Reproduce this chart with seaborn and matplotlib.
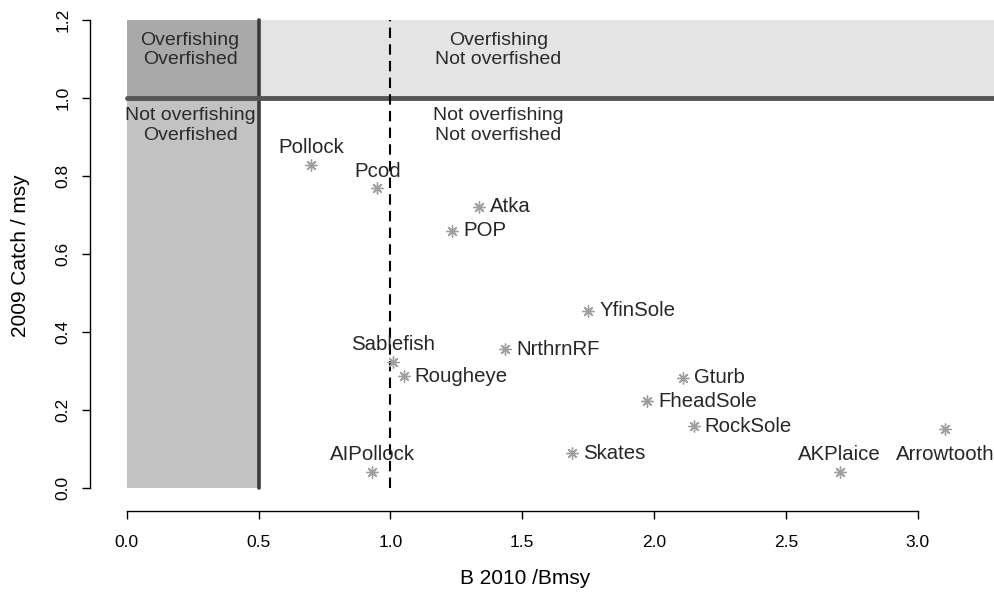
import matplotlib
matplotlib.use('Agg')
import matplotlib.pyplot as plt
import seaborn as sns
import pandas as pd

# Stock status data
stocks = ['Pollock', 'Pcod', 'Atka', 'POP', 'YfinSole', 'Sablefish', 'NrthrnRF',
          'Rougheye', 'Gturb', 'FheadSole', 'RockSole', 'Skates', 'AIPollock',
          'AKPlaice', 'Arrowtooth']
b_ratio = [0.70, 0.95, 1.335, 1.235, 1.75, 1.01, 1.435,
           1.05, 2.11, 1.975, 2.15, 1.69, 0.93, 2.705, 3.105]
catch_ratio = [0.828, 0.768, 0.721, 0.659, 0.454, 0.323, 0.356,
               0.287, 0.282, 0.223, 0.158, 0.089, 0.042, 0.042, 0.151]
label_side = ['above', 'above', 'right', 'right', 'right', 'above', 'right',
              'right', 'right', 'right', 'right', 'right', 'above', 'above', 'below']

# reference points for the quadrants
b_limit = 0.5
b_target = 1.0
f_limit = 1.0
y_top = 1.2

quad_text = ['Overfishing\nOverfished', 'Not overfishing\nOverfished',
             'Overfishing\nNot overfished', 'Not overfishing\nNot overfished']
quad_x = [0.24, 0.24, 1.41, 1.41]
quad_y = [1.123, 0.93, 1.123, 0.93]

df = pd.DataFrame({'stock': stocks, 'B': b_ratio, 'C': catch_ratio, 'side': label_side})

sns.set_theme(style='ticks')
plt.rcParams['font.family'] = ['Liberation Sans', 'DejaVu Sans']

fig = plt.figure(figsize=(9.94, 5.92), dpi=100)
ax = fig.add_axes([0.0905, 0.1368, 0.9095, 0.8632])

xmax = 3.29
ax.set_xlim(-0.14, xmax)
ax.set_ylim(-0.059, 1.251)

# shaded zones
ax.fill_between([b_limit, xmax], f_limit, y_top, color='#e4e4e4', lw=0, zorder=0)
ax.fill_between([0, b_limit], 0, f_limit, color='#c2c2c2', lw=0, zorder=0)
ax.fill_between([0, b_limit], f_limit, y_top, color='#a9a9a9', lw=0, zorder=0)

# reference lines
ax.plot([b_limit, b_limit], [0, y_top], color='#3a3a3a', lw=2.6, zorder=1)
ax.plot([0, xmax], [f_limit, f_limit], color='#555555', lw=3.5, zorder=1)
ax.plot([b_target, b_target], [0, y_top], color='black', lw=1.5,
        linestyle=(0, (5, 3)), zorder=1)

for t, x, y in zip(quad_text, quad_x, quad_y):
    ax.text(x, y, t, ha='center', va='center', fontsize=14, color='#2a2a2a',
            linespacing=1.2, zorder=2)

sns.scatterplot(data=df, x='B', y='C', marker=(8, 2, 0), color='#9f9f9f',
                s=65, linewidth=1.0, ax=ax, zorder=3, legend=False)

for _, r in df.iterrows():
    if r['side'] == 'right':
        ax.annotate(r['stock'], (r['B'], r['C']), xytext=(8, 0), textcoords='offset points',
                    ha='left', va='center', fontsize=14.7)
    elif r['side'] == 'above':
        ax.annotate(r['stock'], (r['B'], r['C']), xytext=(0, 12.5), textcoords='offset points',
                    ha='center', va='center', fontsize=14.7)
    else:
        ax.annotate(r['stock'], (r['B'], r['C']), xytext=(0, -18), textcoords='offset points',
                    ha='center', va='center', fontsize=14.7)

# R-like detached axes
sns.despine(ax=ax)
ax.spines['left'].set_bounds(0, 1.2)
ax.spines['bottom'].set_bounds(0, 3.0)
ax.spines['left'].set_linewidth(1.0)
ax.spines['bottom'].set_linewidth(1.0)
ax.spines['left'].set_color('black')
ax.spines['bottom'].set_color('black')
ax.set_xticks([0, 0.5, 1.0, 1.5, 2.0, 2.5, 3.0])
ax.set_xticklabels(['0.0', '0.5', '1.0', '1.5', '2.0', '2.5', '3.0'])
ax.set_yticks([0, 0.2, 0.4, 0.6, 0.8, 1.0, 1.2])
ax.set_yticklabels(['0.0', '0.2', '0.4', '0.6', '0.8', '1.0', '1.2'],
                   rotation=90, va='center')
ax.tick_params(axis='both', length=6, width=1.0, color='black', labelsize=12.5,
               labelcolor='black')
ax.tick_params(axis='x', pad=11)
ax.tick_params(axis='y', pad=8)
ax.set_facecolor('white')

ax.set_xlabel('B 2010 /Bmsy', fontsize=15, color='black')
ax.set_ylabel('2009 Catch / msy', fontsize=15, color='black')
ax.xaxis.set_label_coords(0.481, -0.113)
ax.yaxis.set_label_coords(-0.066, 0.5)

fig.savefig('out.png', dpi=100, facecolor='white')
